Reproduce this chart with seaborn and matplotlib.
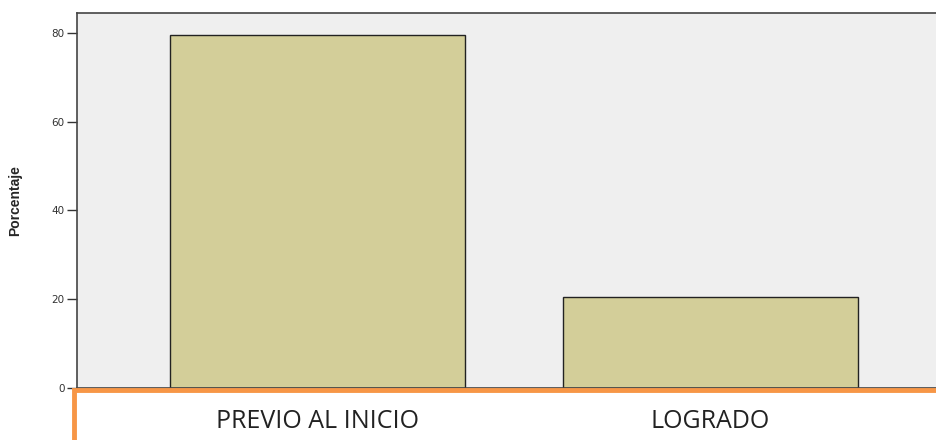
import pandas as pd
import seaborn as sns
import matplotlib.pyplot as plt
from matplotlib.patches import Rectangle

categorias = ["PREVIO AL INICIO", "LOGRADO"]
porcentajes = [79.5, 20.5]
yticks = [0, 20, 40, 60, 80]

df = pd.DataFrame({"categoria": categorias, "porcentaje": porcentajes})

sns.set_style("white")
plt.rcParams["font.family"] = ["DejaVu Sans"]

fig = plt.figure(figsize=(9.37, 4.4), dpi=100)
ax = fig.add_axes([77 / 937, 1 - 388 / 440, 1 - 77 / 937 + 0.01, (388 - 13) / 440])
ax.set_facecolor("#efefef")

sns.barplot(data=df, x="categoria", y="porcentaje", color="#d3ce99",
            saturation=1, width=0.75, edgecolor="#222222", linewidth=1.0, ax=ax)

ax.set_xlim(-0.611, 1.60)
ax.set_ylim(0, 84.5)
ax.set_yticks(yticks)
ax.set_yticklabels([str(t) for t in yticks], fontsize=7.5, color="#333333",
                   family="DejaVu Sans")
ax.tick_params(axis="y", direction="out", length=7, width=1, color="#333333", pad=2, left=True)
ax.tick_params(axis="x", length=0, pad=15, labelsize=18, labelcolor="#222222")
for lbl in ax.get_xticklabels():
    lbl.set_family("Open Sans")

ax.set_xlabel("")
ax.set_ylabel("Porcentaje", fontsize=10, fontweight="bold",
              family=["Liberation Sans Narrow", "Liberation Sans"], labelpad=21)

for side in ["left", "top", "right", "bottom"]:
    ax.spines[side].set_color("#444444")
    ax.spines[side].set_linewidth(1.2)
    ax.spines[side].set_visible(True)

# orange frame below the plot
fig.patches.append(Rectangle((74 / 937, -0.1), 1.0, 1 - 390 / 440 + 0.1,
                             transform=fig.transFigure, fill=False,
                             edgecolor="#f79646", linewidth=3.5, zorder=5))

fig.savefig("out.png", dpi=100)
